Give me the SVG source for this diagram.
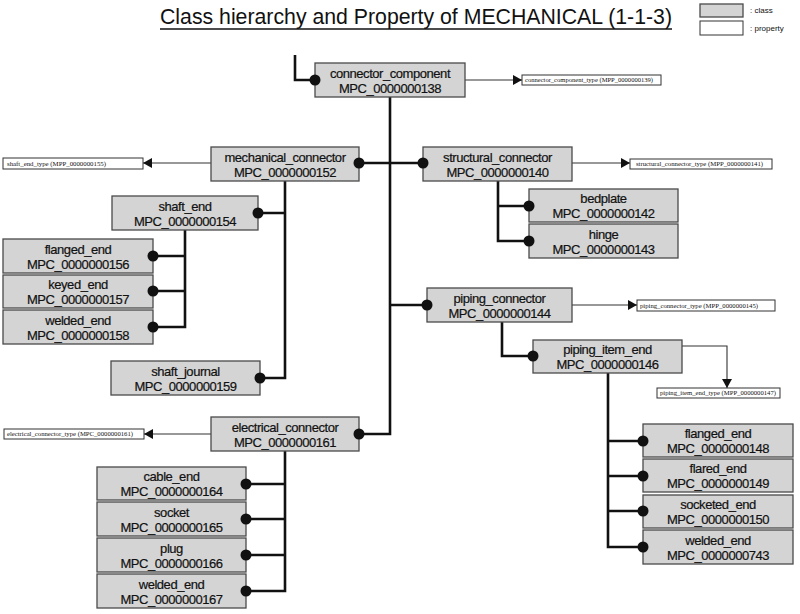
<svg xmlns="http://www.w3.org/2000/svg" width="800" height="614" viewBox="0 0 800 614">
<defs>
<style>
.cls{fill:#d4d4d4;stroke:#4a4a4a;stroke-width:1.3}
.prop{fill:#fff;stroke:#333;stroke-width:1}
.t{font-family:"Liberation Sans",Arial,sans-serif;font-size:13px;letter-spacing:-0.45px;fill:#111;stroke:#111;stroke-width:0.2;text-anchor:middle}
.pt{font-family:"Liberation Serif","Times New Roman",serif;font-size:6.5px;fill:#111}
.lk{fill:none;stroke:#111;stroke-width:2.6}
.pa{fill:none;stroke:#333;stroke-width:1.1}
.dot{fill:#111}
.lg{font-family:"Liberation Sans",Arial,sans-serif;font-size:8px;fill:#111}
</style>
<marker id="ah" markerUnits="userSpaceOnUse" markerWidth="10" markerHeight="10" refX="9" refY="5" orient="auto">
<path d="M0,0 L9,5 L0,10 Z" fill="#111"/>
</marker>
</defs>
<rect width="800" height="614" fill="#fff"/>

<g id="title">
<text x="160" y="24" textLength="512" lengthAdjust="spacingAndGlyphs" font-family="'Liberation Sans',Arial,sans-serif" font-size="22" fill="#111">Class hierarchy and Property of MECHANICAL (1-1-3)</text>
<line x1="160" y1="29" x2="672" y2="29" stroke="#111" stroke-width="1.3"/>
</g>

<g id="legend">
<rect class="cls" x="700" y="4" width="43" height="13"/>
<text class="lg" x="750" y="13">: class</text>
<rect class="prop" x="700" y="21" width="43" height="14"/>
<text class="lg" x="750" y="31">: property</text>
</g>

<g id="connectors">
<path class="lk" d="M295,55 V80 H315"/>
<path class="lk" d="M390,97 V434 H359"/>
<path class="lk" d="M359,163 H423"/>
<path class="lk" d="M390,305 H427"/>
<path class="lk" d="M285,181 V378 H260 M285,213 H258"/>
<path class="lk" d="M185,230 V327 H153 M185,256 H153 M185,291 H153"/>
<path class="lk" d="M498,181 V241 H529 M498,206 H529"/>
<path class="lk" d="M502,322 V356 H533"/>
<path class="lk" d="M608,373 V547 H643 M608,441 H643 M608,476 H643 M608,511 H643"/>
<path class="lk" d="M285,451 V591 H246 M285,484 H246 M285,519 H246 M285,555 H246"/>
<path class="pa" d="M465,80 H522" marker-end="url(#ah)"/>
<path class="pa" d="M211,163 H143" marker-end="url(#ah)"/>
<path class="pa" d="M572,163 H630" marker-end="url(#ah)"/>
<path class="pa" d="M572,305 H637" marker-end="url(#ah)"/>
<path class="pa" d="M682,346 H727 V388" marker-end="url(#ah)"/>
<path class="pa" d="M211,434 H144" marker-end="url(#ah)"/>
</g>

<g id="p139"><rect class="prop" x="522" y="75" width="139" height="10"/><text class="pt" x="525" y="82" textLength="128" lengthAdjust="spacingAndGlyphs">connector_component_type (MPP_0000000139)</text></g>
<g id="p155"><rect class="prop" x="3" y="158" width="140" height="11"/><text class="pt" x="7" y="165.5" textLength="99" lengthAdjust="spacingAndGlyphs">shaft_end_type (MPP_0000000155)</text></g>
<g id="p141"><rect class="prop" x="630" y="159" width="142" height="10"/><text class="pt" x="636" y="166" textLength="127" lengthAdjust="spacingAndGlyphs">structural_connector_type (MPP_0000000141)</text></g>
<g id="p145"><rect class="prop" x="637" y="300" width="138" height="11"/><text class="pt" x="640" y="307.5" textLength="118" lengthAdjust="spacingAndGlyphs">piping_connector_type (MPP_0000000145)</text></g>
<g id="p147"><rect class="prop" x="657" y="388" width="123" height="10"/><text class="pt" x="660" y="395" textLength="116" lengthAdjust="spacingAndGlyphs">piping_item_end_type (MPP_0000000147)</text></g>
<g id="p161"><rect class="prop" x="4" y="429" width="140" height="10"/><text class="pt" x="7" y="436" textLength="126" lengthAdjust="spacingAndGlyphs">electrical_connector_type (MPC_0000000161)</text></g>

<g id="n138"><rect class="cls" x="315" y="63" width="150" height="34"/><text class="t" x="390" y="78">connector_component</text><text class="t" x="390" y="93">MPC_0000000138</text><circle class="dot" cx="315" cy="80" r="5.5"/></g>
<g id="n152"><rect class="cls" x="211" y="147" width="148" height="34"/><text class="t" x="285" y="162">mechanical_connector</text><text class="t" x="285" y="177">MPC_0000000152</text><circle class="dot" cx="359" cy="163" r="5.5"/></g>
<g id="n140"><rect class="cls" x="423" y="147" width="149" height="34"/><text class="t" x="497.5" y="162">structural_connector</text><text class="t" x="497.5" y="177">MPC_0000000140</text><circle class="dot" cx="423" cy="163" r="5.5"/></g>
<g id="n154"><rect class="cls" x="112" y="196" width="146" height="34"/><text class="t" x="185" y="211">shaft_end</text><text class="t" x="185" y="226">MPC_0000000154</text><circle class="dot" cx="258" cy="213" r="5.5"/></g>
<g id="n156"><rect class="cls" x="3" y="239" width="150" height="34"/><text class="t" x="78" y="254">flanged_end</text><text class="t" x="78" y="269">MPC_0000000156</text><circle class="dot" cx="153" cy="256" r="5.5"/></g>
<g id="n157"><rect class="cls" x="3" y="275" width="150" height="33"/><text class="t" x="78" y="289">keyed_end</text><text class="t" x="78" y="304">MPC_0000000157</text><circle class="dot" cx="153" cy="291" r="5.5"/></g>
<g id="n158"><rect class="cls" x="3" y="310" width="150" height="34"/><text class="t" x="78" y="325">welded_end</text><text class="t" x="78" y="340">MPC_0000000158</text><circle class="dot" cx="153" cy="327" r="5.5"/></g>
<g id="n159"><rect class="cls" x="111" y="361" width="149" height="34"/><text class="t" x="185.5" y="376">shaft_journal</text><text class="t" x="185.5" y="391">MPC_0000000159</text><circle class="dot" cx="260" cy="378" r="5.5"/></g>
<g id="n142"><rect class="cls" x="529" y="189" width="149" height="33"/><text class="t" x="603.5" y="203">bedplate</text><text class="t" x="603.5" y="218">MPC_0000000142</text><circle class="dot" cx="529" cy="206" r="5.5"/></g>
<g id="n143"><rect class="cls" x="529" y="224" width="149" height="34"/><text class="t" x="603.5" y="239">hinge</text><text class="t" x="603.5" y="254">MPC_0000000143</text><circle class="dot" cx="529" cy="241" r="5.5"/></g>
<g id="n144"><rect class="cls" x="427" y="288" width="145" height="34"/><text class="t" x="499.5" y="303">piping_connector</text><text class="t" x="499.5" y="318">MPC_0000000144</text><circle class="dot" cx="427" cy="305" r="5.5"/></g>
<g id="n146"><rect class="cls" x="533" y="340" width="149" height="33"/><text class="t" x="607.5" y="354">piping_item_end</text><text class="t" x="607.5" y="369">MPC_0000000146</text><circle class="dot" cx="533" cy="356" r="5.5"/></g>
<g id="n148"><rect class="cls" x="643" y="424" width="150" height="33"/><text class="t" x="718" y="438">flanged_end</text><text class="t" x="718" y="453">MPC_0000000148</text><circle class="dot" cx="643" cy="441" r="5.5"/></g>
<g id="n149"><rect class="cls" x="643" y="459" width="150" height="33"/><text class="t" x="718" y="473">flared_end</text><text class="t" x="718" y="488">MPC_0000000149</text><circle class="dot" cx="643" cy="476" r="5.5"/></g>
<g id="n150"><rect class="cls" x="643" y="495" width="150" height="33"/><text class="t" x="718" y="509">socketed_end</text><text class="t" x="718" y="524">MPC_0000000150</text><circle class="dot" cx="643" cy="511" r="5.5"/></g>
<g id="n743"><rect class="cls" x="643" y="530" width="150" height="34"/><text class="t" x="718" y="545">welded_end</text><text class="t" x="718" y="560">MPC_0000000743</text><circle class="dot" cx="643" cy="547" r="5.5"/></g>
<g id="n161"><rect class="cls" x="211" y="417" width="148" height="34"/><text class="t" x="285" y="432">electrical_connector</text><text class="t" x="285" y="447">MPC_0000000161</text><circle class="dot" cx="359" cy="434" r="5.5"/></g>
<g id="n164"><rect class="cls" x="97" y="467" width="149" height="33"/><text class="t" x="171.5" y="481">cable_end</text><text class="t" x="171.5" y="496">MPC_0000000164</text><circle class="dot" cx="246" cy="484" r="5.5"/></g>
<g id="n165"><rect class="cls" x="97" y="502" width="149" height="34"/><text class="t" x="171.5" y="517">socket</text><text class="t" x="171.5" y="532">MPC_0000000165</text><circle class="dot" cx="246" cy="519" r="5.5"/></g>
<g id="n166"><rect class="cls" x="97" y="538" width="149" height="34"/><text class="t" x="171.5" y="553">plug</text><text class="t" x="171.5" y="568">MPC_0000000166</text><circle class="dot" cx="246" cy="555" r="5.5"/></g>
<g id="n167"><rect class="cls" x="97" y="574" width="149" height="34"/><text class="t" x="171.5" y="589">welded_end</text><text class="t" x="171.5" y="604">MPC_0000000167</text><circle class="dot" cx="246" cy="591" r="5.5"/></g>
</svg>
